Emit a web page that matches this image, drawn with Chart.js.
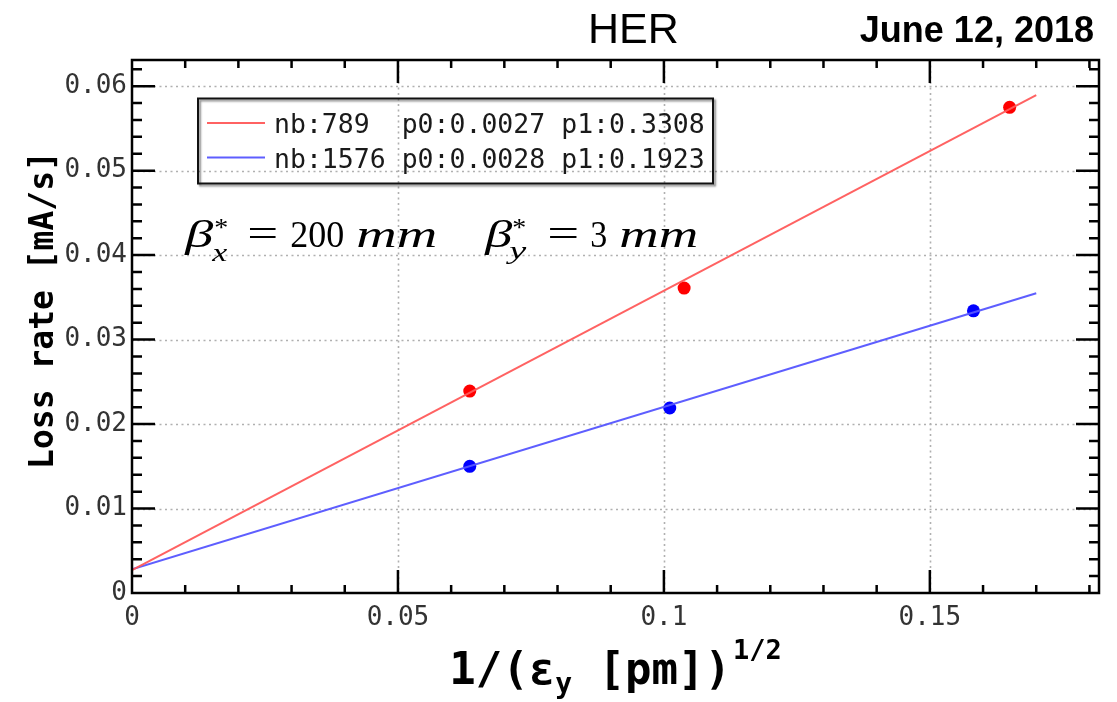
<!DOCTYPE html>
<html>
<head>
<meta charset="utf-8">
<title>HER loss rate</title>
<script src="https://cdn.jsdelivr.net/npm/chart.js@4.4.1/dist/chart.umd.min.js"></script>
<style>
  html, body { margin: 0; padding: 0; background: #ffffff; }
  #wrap { width: 1117px; height: 702px; position: relative; }
</style>
</head>
<body>
<div id="wrap"><canvas id="chart" width="1117" height="702"></canvas></div>
<script>
// Measured points (loss rate vs 1/sqrt(emittance))
const seriesNames = ['nb:789', 'nb:1576'];
const redX  = [0.0635, 0.1038, 0.1650];
const redY  = [0.0239, 0.0361, 0.0575];
const blueX = [0.0635, 0.1011, 0.1582];
const blueY = [0.0150, 0.0219, 0.0334];

// Linear fit parameters y = p0 + p1 * x
const fitP0 = [0.0027, 0.0028];
const fitP1 = [0.3308, 0.1923];
const fitRange = [0, 0.17];

// Axis ticks
const xTicks = [0, 0.05, 0.1, 0.15];
const xTickLabels = ['0', '0.05', '0.1', '0.15'];
const yTicks = [0, 0.01, 0.02, 0.03, 0.04, 0.05, 0.06];
const yTickLabels = ['0', '0.01', '0.02', '0.03', '0.04', '0.05', '0.06'];
const xMinorStep = 0.01;
const yMinorStep = 0.002;

const lineColors  = ['rgba(255,90,90,0.95)', 'rgba(85,85,255,0.95)'];
const pointColors = ['#ff0000', '#0000ff'];

const MONO = '"DejaVu Sans Mono", monospace';
const SERIF = '"Liberation Serif", "DejaVu Serif", serif';
const SANS = '"Liberation Sans", Arial, sans-serif';

function fitLine(i) {
  return fitRange.map(v => ({ x: v, y: fitP0[i] + fitP1[i] * v }));
}
function pts(xs, ys) {
  return xs.map((v, i) => ({ x: v, y: ys[i] }));
}

// draw text, optionally squeezed/stretched to a given width
function drawText(ctx, txt, x, y, font, width, align) {
  ctx.save();
  ctx.font = font;
  ctx.textAlign = 'left';
  const w = ctx.measureText(txt).width;
  const sx = width ? width / w : 1;
  let x0 = x;
  if (align === 'right') x0 = x - w * sx;
  if (align === 'center') x0 = x - w * sx / 2;
  ctx.translate(x0, y);
  ctx.scale(sx, 1);
  ctx.fillText(txt, 0, 0);
  ctx.restore();
  return w * sx;
}

const framePlugin = {
  id: 'frameAndDecor',
  beforeDraw(chart) {
    const ctx = chart.ctx;
    ctx.save();
    ctx.fillStyle = '#ffffff';
    ctx.fillRect(0, 0, chart.width, chart.height);
    ctx.restore();
  },
  beforeDatasetsDraw(chart) {
    const { ctx, chartArea: a, scales: { x, y } } = chart;
    ctx.save();
    ctx.strokeStyle = '#b0b0b0';
    ctx.lineWidth = 1.6;
    ctx.setLineDash([2, 3.5]);
    xTicks.forEach(v => {
      if (v <= x.min) return;
      const px = Math.round(x.getPixelForValue(v)) + 0.5;
      ctx.beginPath(); ctx.moveTo(px, a.top); ctx.lineTo(px, a.bottom); ctx.stroke();
    });
    yTicks.forEach(v => {
      if (v <= y.min) return;
      const py = Math.round(y.getPixelForValue(v)) + 0.5;
      ctx.beginPath(); ctx.moveTo(a.left, py); ctx.lineTo(a.right, py); ctx.stroke();
    });
    ctx.restore();
  },
  afterDatasetsDraw(chart) {
    const { ctx, chartArea: a, scales: { x, y } } = chart;
    ctx.save();
    ctx.strokeStyle = '#000';
    ctx.lineWidth = 2.5;
    ctx.setLineDash([]);
    const majLen = 23, minLenX = 8, minLenY = 10;
    const isMajor = (v, list) => list.some(t => Math.abs(t - v) < 1e-9);
    // x ticks (bottom and top)
    for (let k = 1; k * xMinorStep < x.max; k++) {
      const v = +(k * xMinorStep).toFixed(6);
      const px = x.getPixelForValue(v);
      const len = isMajor(v, xTicks) ? majLen : minLenX;
      ctx.beginPath();
      ctx.moveTo(px, a.bottom); ctx.lineTo(px, a.bottom - len);
      ctx.moveTo(px, a.top); ctx.lineTo(px, a.top + len);
      ctx.stroke();
    }
    // y ticks (left and right)
    for (let k = 1; k * yMinorStep < y.max; k++) {
      const v = +(k * yMinorStep).toFixed(6);
      const py = y.getPixelForValue(v);
      const len = isMajor(v, yTicks) ? majLen : minLenY;
      ctx.beginPath();
      ctx.moveTo(a.left, py); ctx.lineTo(a.left + len, py);
      ctx.moveTo(a.right, py); ctx.lineTo(a.right - len, py);
      ctx.stroke();
    }
    ctx.strokeRect(a.left, a.top, a.right - a.left, a.bottom - a.top);
    ctx.restore();
  },
  afterDraw(chart) {
    const { ctx, chartArea: a, scales: { x, y } } = chart;
    ctx.save();
    ctx.fillStyle = '#000';
    ctx.textBaseline = 'alphabetic';

    // headline and date
    drawText(ctx, 'HER', 588, 43, '43px ' + SANS);
    drawText(ctx, 'June 12, 2018', 1094, 42, 'bold 36px ' + SANS, null, 'right');

    // legend box
    const lx = a.left + 66, ly = a.top + 38.5, lw = 515, lh = 85;
    ctx.save();
    ctx.shadowColor = 'rgba(0,0,0,0.45)';
    ctx.shadowOffsetX = 2; ctx.shadowOffsetY = 2; ctx.shadowBlur = 2;
    ctx.strokeStyle = '#111';
    ctx.lineWidth = 2;
    ctx.strokeRect(lx, ly, lw, lh);
    ctx.restore();
    const rowsY = [ly + 34.5, ly + 69];
    const ds = chart.data.datasets;
    for (let i = 0; i < 2; i++) {
      const line = ds[i];
      ctx.strokeStyle = line.borderColor;
      ctx.lineWidth = 2;
      ctx.beginPath();
      ctx.moveTo(lx + 9, rowsY[i] - 10);
      ctx.lineTo(lx + 67, rowsY[i] - 10);
      ctx.stroke();
      const label = seriesNames[i].padEnd(8, ' ') + 'p0:' + fitP0[i].toFixed(4) + ' p1:' + fitP1[i].toFixed(4);
      ctx.fillStyle = '#1a1a1a';
      drawText(ctx, label, lx + 76, rowsY[i], '26.5px ' + MONO);
    }

    // beta* annotation
    ctx.fillStyle = '#000';
    const bx = x.getPixelForValue(0.0100);
    const by = y.getPixelForValue(0.0410);
    const it = 'italic 37px ' + SERIF, up = '37px ' + SERIF;
    const small = '26px ' + SERIF, smallIt = 'italic 26px ' + SERIF;
    drawText(ctx, 'β', bx, by, it, 28);
    drawText(ctx, '*', bx + 29, by - 11, small, 14);
    drawText(ctx, 'x', bx + 27, by + 14, smallIt, 15);
    drawText(ctx, '=', bx + 62, by - 1, up, 31);
    drawText(ctx, '200', bx + 105, by, up, 54);
    drawText(ctx, 'mm', bx + 171, by, it, 81);
    drawText(ctx, 'β', bx + 300, by, it, 27);
    drawText(ctx, '*', bx + 327, by - 11, small, 14);
    drawText(ctx, 'y', bx + 324, by + 12, smallIt, 17);
    drawText(ctx, '=', bx + 362, by - 1, up, 32);
    drawText(ctx, '3', bx + 405, by, up, 17);
    drawText(ctx, 'mm', bx + 434, by, it, 79);

    // x-axis title: 1/(eps_y [pm])^(1/2)
    const cx = (a.left + a.right) / 2;
    const tBase = 684;
    const fMain = 'bold 44px ' + MONO, fSub = 'bold 28px ' + MONO, fSup = 'bold 27px ' + MONO;
    ctx.font = fMain; const w1 = ctx.measureText('1/(ε').width, w3 = ctx.measureText(' [pm])').width;
    ctx.font = fSub; const w2 = ctx.measureText('y').width;
    ctx.font = fSup; const w4 = ctx.measureText('1/2').width;
    let tx = cx - (w1 + w2 + w3 + w4 + 2) / 2;
    tx += drawText(ctx, '1/(ε', tx, tBase, fMain);
    tx += drawText(ctx, 'y', tx, tBase + 9, fSub);
    tx += drawText(ctx, ' [pm])', tx, tBase, fMain);
    drawText(ctx, '1/2', tx + 2, tBase - 25, fSup);

    // y-axis title
    ctx.save();
    ctx.translate(53, 310);
    ctx.rotate(-Math.PI / 2);
    ctx.font = 'bold 33px ' + MONO;
    ctx.textAlign = 'center';
    ctx.fillText('Loss rate [mA/s]', 0, 0);
    ctx.restore();

    ctx.restore();
  }
};

const chart = new Chart(document.getElementById('chart'), {
  type: 'scatter',
  data: {
    datasets: [
      { label: seriesNames[0] + ' fit', data: fitLine(0), showLine: true, borderColor: lineColors[0],
        borderWidth: 2, pointRadius: 0, fill: false },
      { label: seriesNames[1] + ' fit', data: fitLine(1), showLine: true, borderColor: lineColors[1],
        borderWidth: 2, pointRadius: 0, fill: false },
      { label: seriesNames[0], data: pts(redX, redY), showLine: false, pointRadius: 6.5,
        pointBackgroundColor: pointColors[0], pointBorderColor: pointColors[0], pointBorderWidth: 0 },
      { label: seriesNames[1], data: pts(blueX, blueY), showLine: false, pointRadius: 6.5,
        pointBackgroundColor: pointColors[1], pointBorderColor: pointColors[1], pointBorderWidth: 0 }
    ]
  },
  options: {
    responsive: false,
    animation: false,
    devicePixelRatio: 1,
    layout: { padding: { top: 60, right: 18, left: 0, bottom: 0 } },
    plugins: { legend: { display: false }, tooltip: { enabled: false }, title: { display: false } },
    scales: {
      x: {
        type: 'linear', position: 'bottom', min: 0, max: 0.1818,
        grid: { display: false, drawTicks: false }, border: { display: false },
        afterFit: s => { s.height = 109; },
        afterBuildTicks: s => { s.ticks = xTicks.map(v => ({ value: v })); },
        ticks: {
          autoSkip: false, maxRotation: 0, padding: 10, color: '#333',
          font: { family: MONO, size: 26 },
          callback: (v, i) => xTickLabels[i]
        }
      },
      y: {
        type: 'linear', position: 'left', min: 0, max: 0.0631,
        grid: { display: false, drawTicks: false }, border: { display: false },
        afterFit: s => { s.width = 132; },
        afterBuildTicks: s => { s.ticks = yTicks.map(v => ({ value: v })); },
        ticks: {
          autoSkip: false, padding: 5, color: '#333',
          font: { family: MONO, size: 26 },
          callback: (v, i) => yTickLabels[i]
        }
      }
    }
  },
  plugins: [framePlugin]
});
</script>
</body>
</html>
